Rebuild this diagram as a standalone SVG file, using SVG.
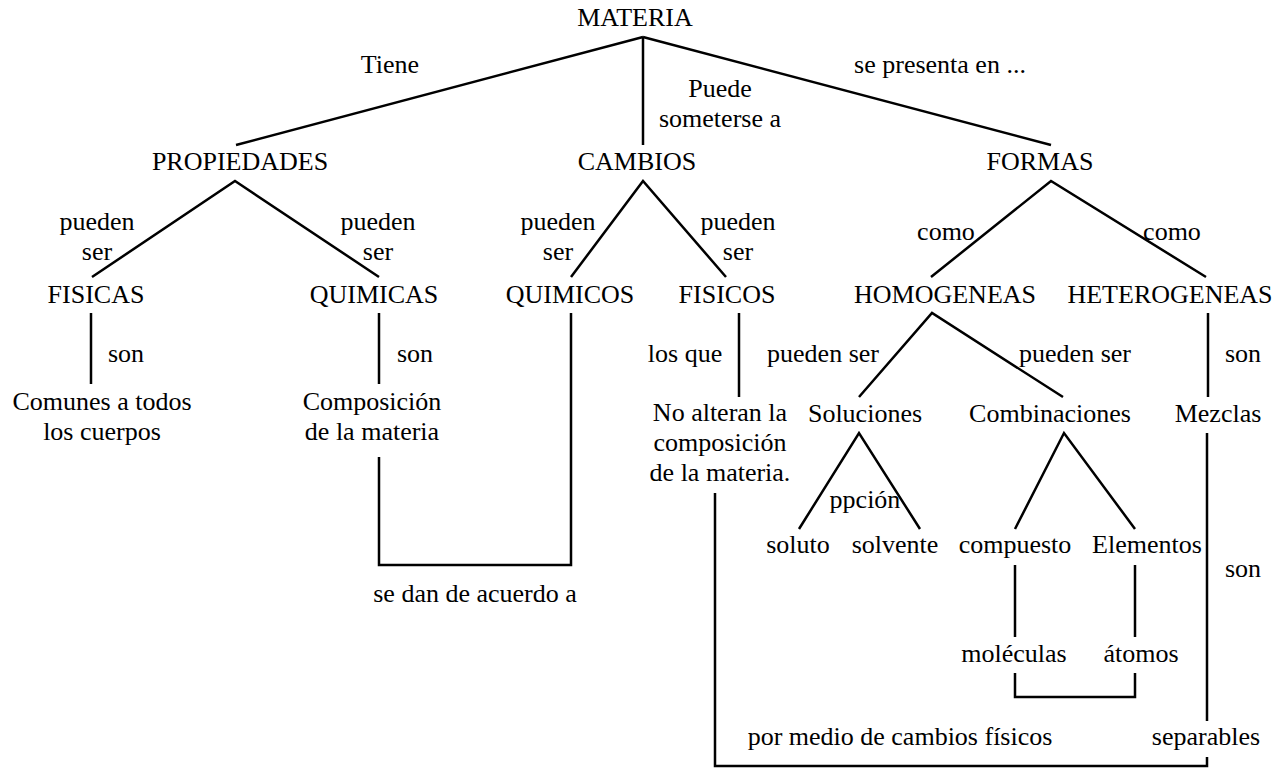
<svg xmlns="http://www.w3.org/2000/svg" width="1285" height="769" viewBox="0 0 1285 769">
<style>
.c line,.c polyline{stroke:#000;stroke-width:2.5;fill:none}
</style>
<rect width="1285" height="769" fill="#fff"/>
<g class="c" id="connectors">
<line x1="643" y1="37" x2="236" y2="145"/>
<line x1="643" y1="37" x2="643" y2="145"/>
<line x1="643" y1="37" x2="1051" y2="145"/>
<polyline points="92,277 235,181 379,277"/>
<polyline points="571,277 643,181 726,277"/>
<polyline points="931,277 1051,181 1206,277"/>
<line x1="91" y1="313" x2="91" y2="384"/>
<line x1="379" y1="313" x2="379" y2="384"/>
<polyline points="379,457 379,565 571,565 571,313"/>
<line x1="739" y1="313" x2="739" y2="397"/>
<polyline points="859,397 932,313 1063,397"/>
<line x1="1208" y1="313" x2="1208" y2="397"/>
<polyline points="799,529 859,433 920,529"/>
<polyline points="1015,529 1064,433 1135,529"/>
<line x1="1015" y1="565" x2="1015" y2="637"/>
<line x1="1135" y1="565" x2="1135" y2="637"/>
<polyline points="1015,673 1015,697 1135,697 1135,673"/>
<line x1="1207" y1="433" x2="1207" y2="721"/>
<polyline points="715,493 715,766 1207,766 1207,757"/>
</g>
<g font-family="Liberation Serif, serif" font-size="26" fill="#000" text-anchor="middle">
<g id="labels">
<text x="390" y="73">Tiene</text>
<text x="720" y="97">Puede</text>
<text x="720" y="127">someterse a</text>
<text x="940" y="73">se presenta en ...</text>
<text x="97" y="230">pueden</text><text x="97" y="260">ser</text>
<text x="378" y="230">pueden</text><text x="378" y="260">ser</text>
<text x="558" y="230">pueden</text><text x="558" y="260">ser</text>
<text x="738" y="230">pueden</text><text x="738" y="260">ser</text>
<text x="946" y="240">como</text>
<text x="1172" y="240">como</text>
<text x="126" y="362">son</text>
<text x="415" y="362">son</text>
<text x="685" y="362">los que</text>
<text x="823" y="362">pueden ser</text>
<text x="1075" y="362">pueden ser</text>
<text x="1243" y="362">son</text>
<text x="475" y="602">se dan de acuerdo a</text>
<text x="865" y="508">ppción</text>
<text x="1243" y="577">son</text>
<text x="900" y="745">por medio de cambios físicos</text>
<text x="1206" y="745">separables</text>
</g>
<g id="materia"><text x="635" y="26">MATERIA</text></g>
<g id="propiedades"><text x="240" y="170">PROPIEDADES</text></g>
<g id="cambios"><text x="637" y="170">CAMBIOS</text></g>
<g id="formas"><text x="1040" y="170">FORMAS</text></g>
<g id="fisicas"><text x="96" y="303">FISICAS</text></g>
<g id="quimicas"><text x="374" y="303">QUIMICAS</text></g>
<g id="quimicos"><text x="570" y="303">QUIMICOS</text></g>
<g id="fisicos"><text x="727" y="303">FISICOS</text></g>
<g id="homogeneas"><text x="945" y="303">HOMOGENEAS</text></g>
<g id="heterogeneas"><text x="1170" y="303">HETEROGENEAS</text></g>
<g id="comunes"><text x="102" y="410">Comunes a todos</text><text x="102" y="440">los cuerpos</text></g>
<g id="composicion"><text x="372" y="410">Composición</text><text x="372" y="440">de la materia</text></g>
<g id="noalteran"><text x="720" y="421">No alteran la</text><text x="720" y="451">composición</text><text x="720" y="481">de la materia.</text></g>
<g id="soluciones"><text x="865" y="422">Soluciones</text></g>
<g id="combinaciones"><text x="1050" y="422">Combinaciones</text></g>
<g id="mezclas"><text x="1218" y="422">Mezclas</text></g>
<g id="soluto"><text x="798" y="553">soluto</text></g>
<g id="solvente"><text x="895" y="553">solvente</text></g>
<g id="compuesto"><text x="1015" y="553">compuesto</text></g>
<g id="elementos"><text x="1147" y="553">Elementos</text></g>
<g id="moleculas"><text x="1014" y="662">moléculas</text></g>
<g id="atomos"><text x="1141" y="662">átomos</text></g>
</g>
</svg>
